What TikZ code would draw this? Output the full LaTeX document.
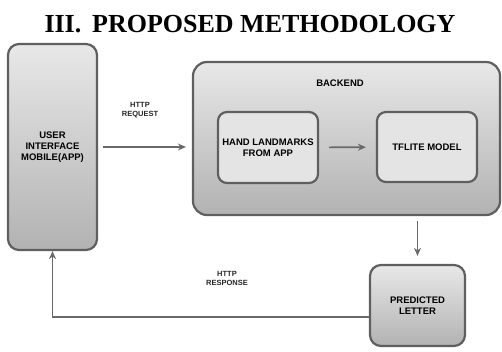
\documentclass[tikz,border=0pt]{standalone}
\usepackage{fontspec}
\setmainfont{Liberation Serif}
\setsansfont{Liberation Sans}
\definecolor{edgegray}{RGB}{95,95,95}
\definecolor{arrowgray}{RGB}{105,105,105}
\definecolor{topfill}{RGB}{232,232,232}
\definecolor{botfill}{RGB}{178,178,178}
\definecolor{innerfill}{RGB}{228,228,228}
\usetikzlibrary{calc, positioning, arrows.meta}

\begin{document}
\begin{tikzpicture}[x=1pt, y=1pt,
  blockbox/.style={draw=edgegray, line width=2.2pt, rounded corners=11pt,
    top color=topfill, bottom color=botfill, inner sep=2pt,
    font=\sffamily\bfseries\fontsize{9.5}{11}\selectfont, align=center},
  innerbox/.style={draw=edgegray, line width=2.2pt, rounded corners=9pt,
    fill=innerfill, inner sep=2pt,
    font=\sffamily\bfseries\fontsize{9.5}{11}\selectfont, align=center},
  arrow/.style={-{Stealth[length=8pt, width=7pt]}, arrowgray, line width=1.6pt},
  msg/.style={font=\sffamily\bfseries\fontsize{7.5}{9}\selectfont, align=center, text=black!85},
]
  \useasboundingbox (0,0) rectangle (502,-352);
  \node[font=\bfseries\fontsize{26}{28}\selectfont] (title) at (250,-24) {III.\, PROPOSED METHODOLOGY};
  % boxes
  \node[blockbox, minimum width=89, minimum height=206] (ui) at (52.5,-147) {USER\\INTERFACE\\MOBILE(APP)};
  \node[blockbox, rounded corners=14pt, minimum width=307, minimum height=153] (backend) at (346.5,-138.5) {};
  \node[font=\sffamily\bfseries\fontsize{9.5}{11}\selectfont] (bklabel) at (340,-83) {BACKEND};
  \node[innerbox, minimum width=100, minimum height=71] (hand) at (268,-147.5) {HAND LANDMARKS\\FROM APP};
  \node[innerbox, minimum width=100, minimum height=70] (tflite) at (427,-147) {TFLITE MODEL};
  \node[blockbox, minimum width=95, minimum height=81] (pred) at (417.5,-305.5) {PREDICTED\\LETTER};
  % connectors
  \draw[arrow, shorten <=5pt, shorten >=6pt] (ui.east) -- (backend.west |- ui.east);
  \draw[arrow, shorten <=10pt, shorten >=10pt] (hand) -- (tflite);
  \draw[arrow, shorten <=5pt, shorten >=8pt] (backend.south -| pred.north) -- (pred.north);
  \draw[arrow] ([yshift=-11.5pt]pred.west) -| (ui.south);
  % labels
  \node[msg] (req) at (140,-110) {HTTP\\REQUEST};
  \node[msg] (resp) at (227,-278) {HTTP\\RESPONSE};
\end{tikzpicture}
\end{document}
